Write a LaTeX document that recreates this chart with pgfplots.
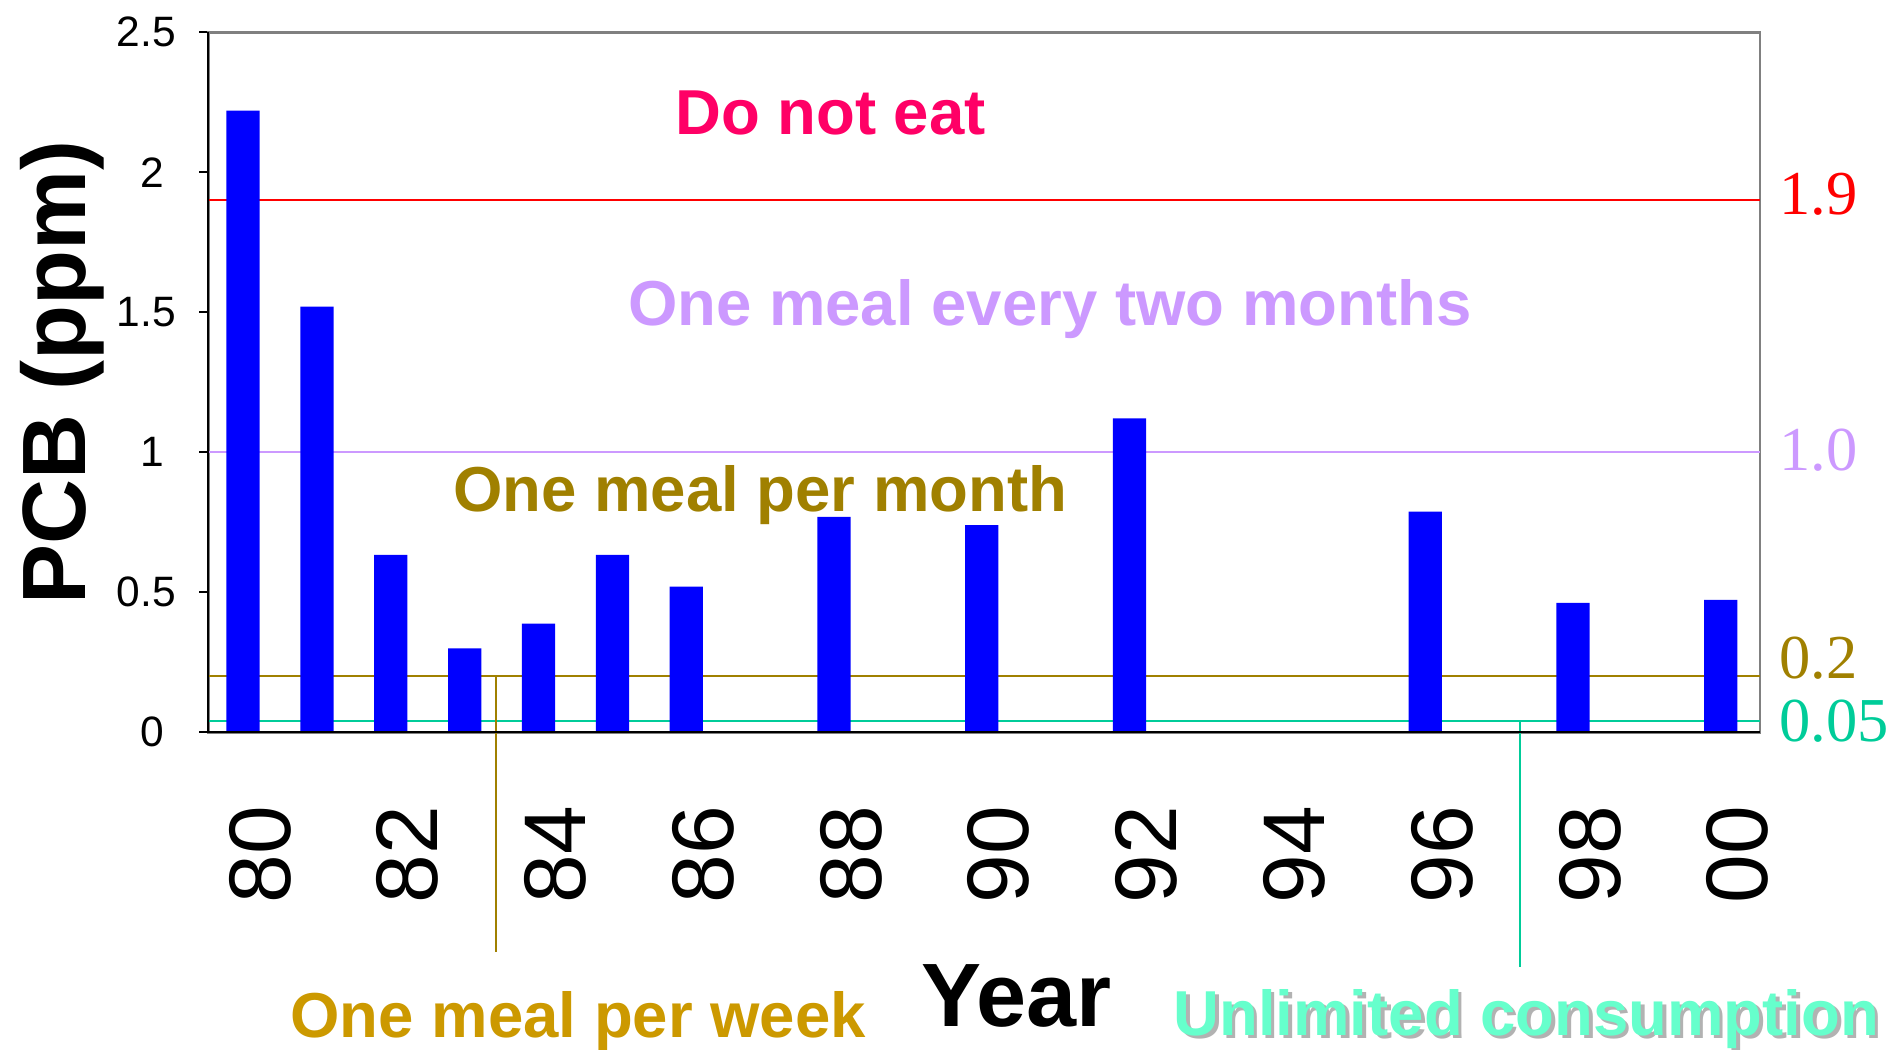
\documentclass[border=0pt]{standalone}
\usepackage{pgfplots}
\pgfplotsset{compat=1.18}
\usepackage{fontspec}
\setmainfont{Liberation Sans}
\newfontfamily\timesf{Liberation Serif}
\definecolor{barblue}{RGB}{0,0,255}
\definecolor{olive2}{RGB}{160,128,0}
\definecolor{lilac}{RGB}{204,153,255}
\definecolor{teal2}{RGB}{0,204,153}
\definecolor{pinkred}{RGB}{255,0,102}
\definecolor{gold2}{RGB}{204,153,0}
\definecolor{aqua2}{RGB}{102,255,204}
\definecolor{shadowgray}{RGB}{178,178,178}
\begin{document}
\begin{tikzpicture}
\begin{axis}[name=ax, at={(0,0)}, anchor=south west,
  scale only axis, width=620.6pt, height=280pt,
  xmin=-0.47, xmax=20.53, ymin=0, ymax=2.5,
  clip=false,
  axis line style={draw=gray, line width=1pt},
  xtick={0,2,...,20},
  xticklabels={80,82,84,86,88,90,92,94,96,98,00},
  ytick={0,0.5,1,1.5,2,2.5},
  yticklabels={0\phantom{.},0.5,1\phantom{.},1.5,2\phantom{.},2.5},
  /pgf/number format/assume math mode=true,
  xtick pos=bottom, ytick pos=left,
  tick align=outside, major tick length=3.6pt,
  xtick style={draw=none},
  ytick style={black, line width=0.8pt},
  yticklabel style={font=\fontsize{17}{17}\selectfont, inner sep=0pt, outer sep=0pt, xshift=-9.4pt},
  xticklabel style={font=\fontsize{35}{35}\selectfont, inner sep=0pt, outer sep=0pt, xshift=6.8pt, yshift=-26pt, rotate=90, anchor=east},
]
% threshold lines
\addplot[red, line width=0.8pt, forget plot] coordinates {(-0.47,1.9) (20.53,1.9)};
\addplot[lilac, line width=0.8pt, forget plot] coordinates {(-0.47,1.0) (20.53,1.0)};
\addplot[olive2, line width=0.9pt, forget plot] coordinates {(-0.47,0.2) (20.53,0.2)};
\addplot[teal2, line width=1.1pt, forget plot] coordinates {(-0.47,0.04) (20.53,0.04)};
% bars
\addplot[ybar, bar width=0.45, fill=barblue, draw=none] coordinates {
  (0,2.22) (1,1.52) (2,0.634) (3,0.30) (4,0.388) (5,0.634) (6,0.52)
  (8,0.769) (10,0.740) (12,1.121) (16,0.788) (18,0.462) (20,0.473)};
% pointer lines
\draw[olive2, line width=0.8pt] (axis cs:3.43,0.2) -- (axis cs:3.43,-0.784);
\draw[teal2, line width=0.8pt] (axis cs:17.29,0.04) -- (axis cs:17.29,-0.8375);
% black left and bottom axis lines
\draw[black, line width=0.8pt] (rel axis cs:0,1) -- (rel axis cs:0,0) -- (rel axis cs:1,0);
% texts in the plot
\node[anchor=base, inner sep=0pt, text=pinkred, font=\bfseries\fontsize{25.4}{25.4}\selectfont] at (axis cs:7.952,2.136) {Do not eat};
\node[anchor=base, inner sep=0pt, text=lilac, font=\bfseries\fontsize{25.4}{25.4}\selectfont] at (axis cs:10.92,1.453) {One meal every two months};
\node[anchor=base, inner sep=0pt, text=olive2, font=\bfseries\fontsize{25.4}{25.4}\selectfont] at (axis cs:7.0,0.789) {One meal per month};
% texts below
\node[anchor=base, inner sep=0pt, text=gold2, font=\bfseries\fontsize{25.4}{25.4}\selectfont] at (axis cs:4.537,-1.089) {One meal per week};
\node[anchor=base, inner sep=0pt, text=black, font=\bfseries\fontsize{36}{36}\selectfont] at (axis cs:10.475,-1.049) {Year};
\node[anchor=base, inner sep=0pt, text=shadowgray, font=\bfseries\fontsize{25.4}{25.4}\selectfont, xshift=1.4pt, yshift=-1.1pt] at (axis cs:17.37,-1.082) {Unlimited consumption};
\node[anchor=base, inner sep=0pt, text=aqua2, font=\bfseries\fontsize{25.4}{25.4}\selectfont] at (axis cs:17.37,-1.082) {Unlimited consumption};
% y label
\node[anchor=base, inner sep=0pt, font=\bfseries\fontsize{36}{36}\selectfont, xshift=-49pt, rotate=90] at (axis cs:-0.47,1.285) {PCB (ppm)};
% right-hand values
\node[anchor=base west, inner sep=0pt, text=red, font=\timesf\fontsize{25}{25}\selectfont, xshift=7.6pt] at (axis cs:20.53,1.848) {1.9};
\node[anchor=base west, inner sep=0pt, text=lilac, font=\timesf\fontsize{25}{25}\selectfont, xshift=7.6pt] at (axis cs:20.53,0.934) {1.0};
\node[anchor=base west, inner sep=0pt, text=olive2, font=\timesf\fontsize{25}{25}\selectfont, xshift=7.6pt] at (axis cs:20.53,0.192) {0.2};
\node[anchor=base west, inner sep=0pt, text=teal2, font=\timesf\fontsize{25}{25}\selectfont, xshift=7.6pt] at (axis cs:20.53,-0.033) {0.05};
\end{axis}
\pgfresetboundingbox
\path[use as bounding box] (ax.south west) ++(-83.32pt,-127.08pt) rectangle ++(757.2pt,420pt);
\end{tikzpicture}
\end{document}
